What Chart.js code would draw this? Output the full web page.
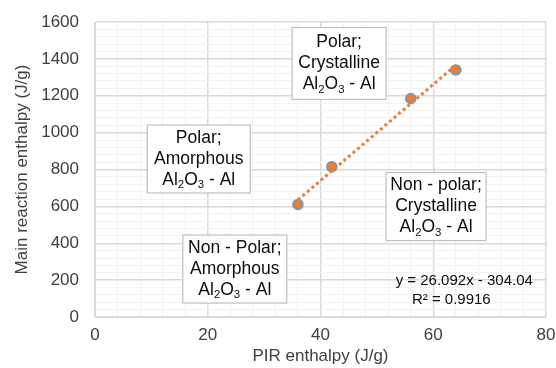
<!DOCTYPE html>
<html>
<head>
<meta charset="utf-8">
<script src="https://cdn.jsdelivr.net/npm/chart.js@4.4.0/dist/chart.umd.min.js"></script>
<style>
  body { margin: 0; background: #fff; }
  #wrap { width: 556px; height: 368px; }
</style>
</head>
<body>
<div id="wrap"><canvas id="myChart"></canvas></div>
<script>
// PIR enthalpy vs main reaction enthalpy
var pirEnthalpy = [36, 42, 56, 64];
var mainEnthalpy = [610, 815, 1185, 1340];
var slope = 26.092;
var intercept = -304.04;
var rSquared = 0.9916;
var xTicks = [0, 20, 40, 60, 80];
var yTicks = [0, 200, 400, 600, 800, 1000, 1200, 1400, 1600];

var points = pirEnthalpy.map(function (x, i) { return { x: x, y: mainEnthalpy[i] }; });
var xFirst = pirEnthalpy[0];
var xLast = pirEnthalpy[pirEnthalpy.length - 1];
var trend = [
  { x: xFirst, y: slope * xFirst + intercept },
  { x: xLast, y: slope * xLast + intercept }
];

// text boxes, placed in data units (cx, cy), size in px
var boxes = [
  { cx: 43.3, cy: 1375, w: 94, h: 72, lines: ['Polar;', 'Crystalline', 'Al_2O_3 - Al'] },
  { cx: 18.4, cy: 857, w: 103, h: 68, lines: ['Polar;', 'Amorphous', 'Al_2O_3 - Al'] },
  { cx: 24.8, cy: 260, w: 104, h: 68, lines: ['Non - Polar;', 'Amorphous', 'Al_2O_3 - Al'] },
  { cx: 60.5, cy: 599, w: 100, h: 68, lines: ['Non - polar;', 'Crystalline', 'Al_2O_3 - Al'] }
];
var eqLines = ['y = ' + slope + 'x - ' + Math.abs(intercept), 'R\u00b2 = ' + rSquared];

var FONT = '"Liberation Sans", Arial, sans-serif';
var TXT = '#404040';

function drawRich(ctx, str, cx, cy, size) {
  // "_" marks a single subscript char
  var segs = [];
  for (var i = 0; i < str.length; i++) {
    if (str[i] === '_') { segs.push({ t: str[i + 1], sub: true }); i++; }
    else segs.push({ t: str[i], sub: false });
  }
  var widths = segs.map(function (s) {
    ctx.font = (s.sub ? size * 0.65 : size) + 'px ' + FONT;
    return ctx.measureText(s.t).width;
  });
  var total = widths.reduce(function (a, b) { return a + b; }, 0);
  var x = cx - total / 2;
  ctx.textAlign = 'left';
  ctx.textBaseline = 'middle';
  segs.forEach(function (s, i) {
    ctx.font = (s.sub ? size * 0.65 : size) + 'px ' + FONT;
    ctx.fillText(s.t, x, s.sub ? cy + size * 0.3 : cy);
    x += widths[i];
  });
}

var notes = {
  id: 'notes',
  afterDatasetsDraw: function (chart) {
    var ctx = chart.ctx;
    var xs = chart.scales.x, ys = chart.scales.y;
    ctx.save();
    boxes.forEach(function (b) {
      var px = xs.getPixelForValue(b.cx), py = ys.getPixelForValue(b.cy);
      ctx.fillStyle = '#ffffff';
      ctx.fillRect(px - b.w / 2, py - b.h / 2, b.w, b.h);
      ctx.strokeStyle = '#bfbfbf';
      ctx.lineWidth = 1.2;
      ctx.strokeRect(px - b.w / 2, py - b.h / 2, b.w, b.h);
      ctx.fillStyle = '#0d0d0d';
      b.lines.forEach(function (l, i) {
        drawRich(ctx, l, px, py + (i - 1) * 21, 17.5);
      });
    });
    ctx.fillStyle = '#0d0d0d';
    drawRich(ctx, eqLines[0], xs.getPixelForValue(65.5), ys.getPixelForValue(195), 15);
    drawRich(ctx, eqLines[1], xs.getPixelForValue(63.2), ys.getPixelForValue(92), 15);
    ctx.restore();
  }
};

var ctx = document.getElementById('myChart').getContext('2d');
var chart = new Chart(ctx, {
  type: 'scatter',
  data: {
    datasets: [{
      label: 'trend',
      data: trend,
      showLine: true,
      borderColor: '#ED7D31',
      borderWidth: 3,
      borderDash: [3, 3],
      pointRadius: 0,
      fill: false
    }, {
      label: 'data',
      data: points,
      backgroundColor: '#ED7D31',
      borderColor: '#5B9BD5',
      borderWidth: 1.5,
      pointRadius: 5
    }]
  },
  options: {
    responsive: true,
    maintainAspectRatio: false,
    animation: false,
    layout: { padding: { top: 22, right: 10, left: 6, bottom: 0 } },
    plugins: { legend: { display: false }, tooltip: { enabled: false } },
    scales: {
      x: {
        type: 'linear',
        min: 0, max: 80,
        afterBuildTicks: function (s) {
          var t = [];
          for (var v = 0; v <= 80; v += 4) t.push({ value: v });
          s.ticks = t;
        },
        ticks: {
          autoSkip: false, maxRotation: 0, color: TXT,
          font: { size: 17, family: FONT }, padding: 8,
          callback: function (v) { return xTicks.indexOf(v) >= 0 ? v : ''; }
        },
        grid: {
          color: function (c) { return c.tick && c.tick.value % 20 === 0 ? '#d9d9d9' : '#f2f2f2'; },
          lineWidth: function (c) { return c.tick && c.tick.value % 20 === 0 ? 1.5 : 1; },
          drawTicks: false
        },
        border: { color: '#d9d9d9' },
        afterFit: function (s) { s.height = 51; s.paddingLeft = 0; s.paddingRight = 0; },
        title: { display: true, text: 'PIR enthalpy (J/g)', color: TXT, font: { size: 17, family: FONT }, padding: { top: 0, bottom: 1 } }
      },
      y: {
        min: 0, max: 1600,
        afterBuildTicks: function (s) {
          var t = [];
          for (var v = 0; v <= 1600; v += 40) t.push({ value: v });
          s.ticks = t;
        },
        ticks: {
          autoSkip: false, color: TXT,
          font: { size: 17, family: FONT }, padding: 16,
          callback: function (v) { return yTicks.indexOf(v) >= 0 ? v : ''; }
        },
        grid: {
          color: function (c) { return c.tick && c.tick.value % 200 === 0 ? '#d9d9d9' : '#f2f2f2'; },
          lineWidth: function (c) { return c.tick && c.tick.value % 200 === 0 ? 1.5 : 1; },
          drawTicks: false
        },
        border: { color: '#d9d9d9' },
        afterFit: function (s) { s.width = 89; s.paddingTop = 0; s.paddingBottom = 0; },
        title: { display: true, text: 'Main reaction enthalpy (J/g)', color: TXT, font: { size: 17, family: FONT }, padding: { top: 6, bottom: 0 } }
      }
    }
  },
  plugins: [notes]
});
</script>
</body>
</html>
